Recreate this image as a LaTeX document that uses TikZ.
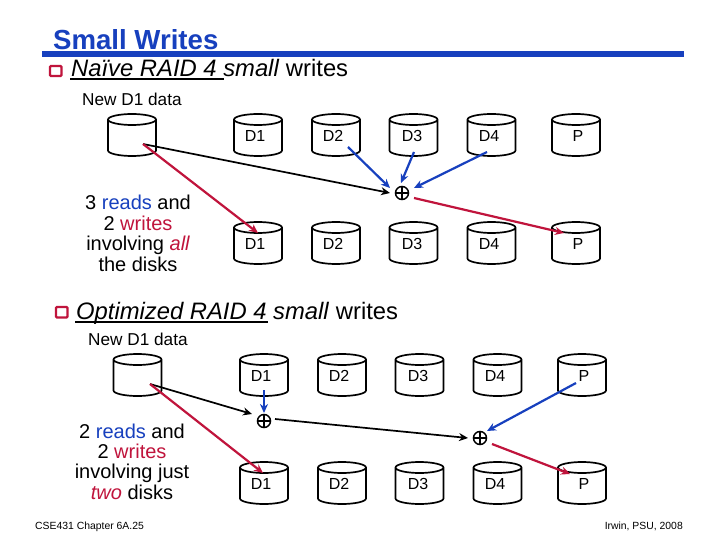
\documentclass[tikz,border=0pt]{standalone}
\usepackage{fontspec}
\setmainfont{Liberation Sans}
\usetikzlibrary{arrows.meta}
\definecolor{tblue}{HTML}{1740BE}
\definecolor{tred}{HTML}{C0143C}
\newcommand{\fs}[1]{\fontsize{#1}{#1}\selectfont}
\tikzset{
  diskbox/.style={rectangle,minimum width=48pt,minimum height=42pt,inner sep=0pt,outer sep=0pt},
  disklabel/.style={inner sep=0pt,font=\fs{16}},
  diskline/.style={line width=1.7pt,black,line join=round},
  xorgate/.style={circle,draw=black,line width=1.5pt,minimum size=13pt,inner sep=0pt,outer sep=0pt,
    path picture={\draw[line width=1.3pt] (path picture bounding box.north)--(path picture bounding box.south)
      (path picture bounding box.west)--(path picture bounding box.east);}},
  txt/.style={inner sep=0pt,anchor=base west},
  ctxt/.style={inner sep=0pt,anchor=base},
  blk/.style={line width=1.7pt,black,-{Stealth[length=9pt,width=8pt]}},
  rd/.style={line width=2.2pt,tred,-{Stealth[length=9pt,width=8pt]}},
  bl/.style={line width=2.2pt,tblue,-{Stealth[length=9pt,width=8pt]}},
  bullet/.style={draw=tred,line width=2.2pt,rounded corners=1pt},
}
% name, centre x, top y, label offset x, label
\newcommand{\disk}[5]{%
  \node[diskbox] (#1) at (#2,#3+21) {};
  \draw[diskline,shift={(#2,#3)}] (-24,5.5) .. controls (-24,2.5) and (-13,0) .. (0,0)
    .. controls (13,0) and (24,2.5) .. (24,5.5)
    .. controls (24,8.5) and (13,11) .. (0,11)
    .. controls (-13,11) and (-24,8.5) .. (-24,5.5) -- (-24,36.5)
    .. controls (-24,39.5) and (-13,42) .. (0,42)
    .. controls (13,42) and (24,39.5) .. (24,36.5) -- (24,5.5);
  \node[disklabel] (#1t) at (#2+#4,#3+22) {#5};
}
\begin{document}
\begin{tikzpicture}[x=1pt,y=-1pt]
\useasboundingbox (0,0) rectangle (720,540);
\fill[white] (0,0) rectangle (720,540);
% title
\node[txt,text=tblue,font=\fs{27.6}\bfseries] (title) at (53,50) {Small Writes};
\fill[tblue] (42,51.5) rectangle (684,57);
% heading 1
\draw[bullet] (50,66) rectangle (61.5,76);
\node[txt,font=\fs{23.8}] (h1) at (71,77) {\textit{Naïve RAID 4 small} writes};
\draw[line width=2.2pt,black] (70,79) -- (224,79);
\node[txt,font=\fs{17.2}] (n1) at (82,106) {New D1 data};
% heading 2
\draw[bullet] (56,307) rectangle (67.5,317.5);
\node[txt,font=\fs{23.8}] (h2) at (76,319) {\textit{Optimized RAID 4 small} writes};
\draw[line width=2.2pt,black] (75,322) -- (268,322);
\node[txt,font=\fs{17.2}] (n2) at (88,345) {New D1 data};
% side notes
\node[ctxt,font=\fs{20}] (s1) at (138,210) {3 \textcolor{tblue}{reads} and};
\node[ctxt,font=\fs{20}] (s2) at (138,230.5) {2 \textcolor{tred}{writes}};
\node[ctxt,font=\fs{20}] (s3) at (138,250.5) {involving \textit{\textcolor{tred}{all}}};
\node[ctxt,font=\fs{20}] (s4) at (138,271) {the disks};
\node[ctxt,font=\fs{20}] (u1) at (132,438) {2 \textcolor{tblue}{reads} and};
\node[ctxt,font=\fs{20}] (u2) at (132,458) {2 \textcolor{tred}{writes}};
\node[ctxt,font=\fs{20}] (u3) at (132,478) {involving just};
\node[ctxt,font=\fs{20}] (u4) at (132,499) {\textit{\textcolor{tred}{two}} disks};
% footers
\node[txt,font=\fs{10.4}] (f1) at (35,529) {CSE431 Chapter 6A.25};
\node[txt,font=\fs{10.4},anchor=base east] (f2) at (683,529) {Irwin, PSU, 2008};
% disks
\disk{dna}{132}{114}{0}{}
\disk{aa}{258}{114}{-3}{D1}
\disk{ab}{336}{114}{-3}{D2}
\disk{ac}{413.5}{114}{-1.5}{D3}
\disk{ad}{491.5}{114}{-2.5}{D4}
\disk{ap}{576}{114}{2}{P}
\disk{ba}{258}{222}{-3}{D1}
\disk{bb}{336}{222}{-3}{D2}
\disk{bc}{413.5}{222}{-1.5}{D3}
\disk{bd}{491.5}{222}{-2.5}{D4}
\disk{bp}{576}{222}{2}{P}
\disk{dnb}{137.5}{354}{0}{}
\disk{ca}{264}{354}{-3}{D1}
\disk{cb}{342}{354}{-3}{D2}
\disk{cc}{419.5}{354}{-1.5}{D3}
\disk{cd}{497.5}{354}{-2.5}{D4}
\disk{cp}{582}{354}{2}{P}
\disk{ea}{264}{462}{-3}{D1}
\disk{eb}{342}{462}{-3}{D2}
\disk{ec}{419.5}{462}{-1.5}{D3}
\disk{ed}{497.5}{462}{-2.5}{D4}
\disk{ep}{582}{462}{2}{P}
% xor gates
\node[xorgate] (x1) at (402,193) {};
\node[xorgate] (x2) at (264,421) {};
\node[xorgate] (x3) at (480,438) {};
% connectors
\draw[blk] ([shift={(11,9)}]dna.center) -- ([shift={(-12,0)}]x1.center);
\draw[rd] ([shift={(11,9)}]dna.center) -- ([shift={(0,-10)}]ba.center);
\draw[bl] ([shift={(12,12)}]ab.center) -- ([shift={(-12,-5)}]x1.center);
\draw[bl] ([shift={(0.5,17)}]ac.center) -- ([shift={(-1,-10)}]x1.center);
\draw[bl] ([shift={(-4.5,17)}]ad.center) -- ([shift={(12,-5)}]x1.center);
\draw[rd] ([shift={(12,5)}]x1.center) -- ([shift={(-12,-10)}]bp.center);
\draw[blk] ([shift={(12.5,9)}]dnb.center) -- ([shift={(-12,-7)}]x2.center);
\draw[rd] ([shift={(12.5,9)}]dnb.center) -- ([shift={(-1,-10)}]ea.center);
\draw[bl] ([shift={(0,15)}]ca.center) -- ([shift={(0,-8)}]x2.center);
\draw[blk] ([shift={(11,-2)}]x2.center) -- ([shift={(-12,0)}]x3.center);
\draw[bl] ([shift={(-6,8)}]cp.center) -- ([shift={(7,-7)}]x3.center);
\draw[rd] ([shift={(12,6)}]x3.center) -- ([shift={(-12,-9)}]ep.center);
\end{tikzpicture}
\end{document}
